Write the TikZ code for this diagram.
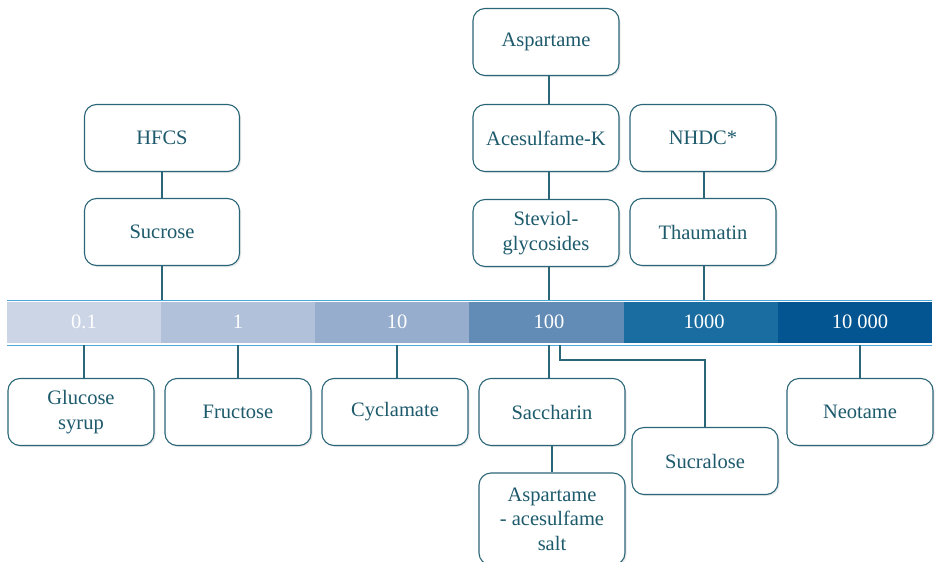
\documentclass[tikz,border=0pt]{standalone}
\usepackage{fontspec}
\setmainfont{Liberation Serif}
\usetikzlibrary{shadows}
\definecolor{boxline}{HTML}{2A6678}
\definecolor{boxtext}{HTML}{1D5A6C}
\definecolor{barline}{HTML}{4DA9D9}
\definecolor{cA}{HTML}{CBD5E5}
\definecolor{cB}{HTML}{B1C1DA}
\definecolor{cC}{HTML}{96ADCD}
\definecolor{cD}{HTML}{628CB6}
\definecolor{cE}{HTML}{1A6DA1}
\definecolor{cF}{HTML}{025590}
\tikzset{
  sbox/.style={draw=boxline, line width=1.1pt, rounded corners=12pt, fill=white,
    minimum width=146pt, minimum height=67pt, text=boxtext, align=center,
    font=\fontsize{20.5}{24.5}\selectfont, inner sep=2pt,
    drop shadow={opacity=0.18, shadow xshift=1.5pt, shadow yshift=-1.5pt, fill=gray}},
  barlab/.style={text=white, font=\fontsize{20.5}{24}\selectfont},
  conn/.style={draw=boxline, line width=1.1pt},
}
\begin{document}
\begin{tikzpicture}[x=1pt,y=-1pt]
\useasboundingbox (0,0) rectangle (937,562);
% bar
\fill[cA] (7,302) rectangle (161,343);
\fill[cB] (161,302) rectangle (315,343);
\fill[cC] (315,302) rectangle (469,343);
\fill[cD] (469,302) rectangle (624,343);
\fill[cE] (624,302) rectangle (778,343);
\fill[cF] (778,302) rectangle (932,343);
\draw[barline, line width=1pt] (7,300) -- (932,300);
\draw[barline, line width=1pt] (7,345) -- (932,345);
\node[barlab] (l1) at (84,322) {0.1};
\node[barlab] (l2) at (238,322) {1};
\node[barlab] (l3) at (397,322) {10};
\node[barlab] (l4) at (549,322) {100};
\node[barlab] (l5) at (704,322) {1000};
\node[barlab] (l6) at (860,322) {10 000};
\coordinate (t1) at (162,300);
\coordinate (t4) at (549,300);
\coordinate (t5) at (704,300);
\coordinate (b1) at (84,345);
\coordinate (b2) at (238,345);
\coordinate (b3) at (397,345);
\coordinate (b4) at (549,345);
\coordinate (b4s) at (560,345);
\coordinate (b6) at (860,345);
% boxes
\node[sbox, minimum width=155pt] (hfcs) at (162,138) {HFCS};
\node[sbox, minimum width=155pt] (sucrose) at (162,232) {Sucrose};
\node[sbox] (asp) at (546,42) {Aspartame};
\node[sbox] (ace) at (546,138) {Acesulfame-K};
\node[sbox] (stev) at (546,233) {Steviol-\\glycosides};
\node[sbox] (nhdc) at (703,138) {NHDC*};
\node[sbox] (thau) at (703,232) {Thaumatin};
\node[sbox] (gluc) at (81,412) {Glucose\\syrup};
\node[sbox] (fruc) at (238,412) {Fructose};
\node[sbox] (cycl) at (395,412) {Cyclamate};
\node[sbox] (sacc) at (552,412) {Saccharin};
\node[sbox, minimum height=92pt] (aas) at (552,519) {Aspartame\\- acesulfame\\salt};
\node[sbox] (sucr) at (705,461) {Sucralose};
\node[sbox] (neo) at (860,412) {Neotame};
% connectors
\draw[conn] (hfcs.south -| t1) -- (sucrose.north -| t1);
\draw[conn] (sucrose.south -| t1) -- (t1);
\draw[conn] (asp.south -| t4) -- (ace.north -| t4);
\draw[conn] (ace.south -| t4) -- (stev.north -| t4);
\draw[conn] (stev.south -| t4) -- (t4);
\draw[conn] (nhdc.south -| t5) -- (thau.north -| t5);
\draw[conn] (thau.south -| t5) -- (t5);
\draw[conn] (b1) -- (b1 |- gluc.north);
\draw[conn] (b2) -- (b2 |- fruc.north);
\draw[conn] (b3) -- (b3 |- cycl.north);
\draw[conn] (b4) -- (b4 |- sacc.north);
\draw[conn] (sacc.south) -- (aas.north);
\draw[conn] (b4s) -- ++(0,15) -| (sucr.north);
\draw[conn] (b6) -- (b6 |- neo.north);
\end{tikzpicture}
\end{document}
